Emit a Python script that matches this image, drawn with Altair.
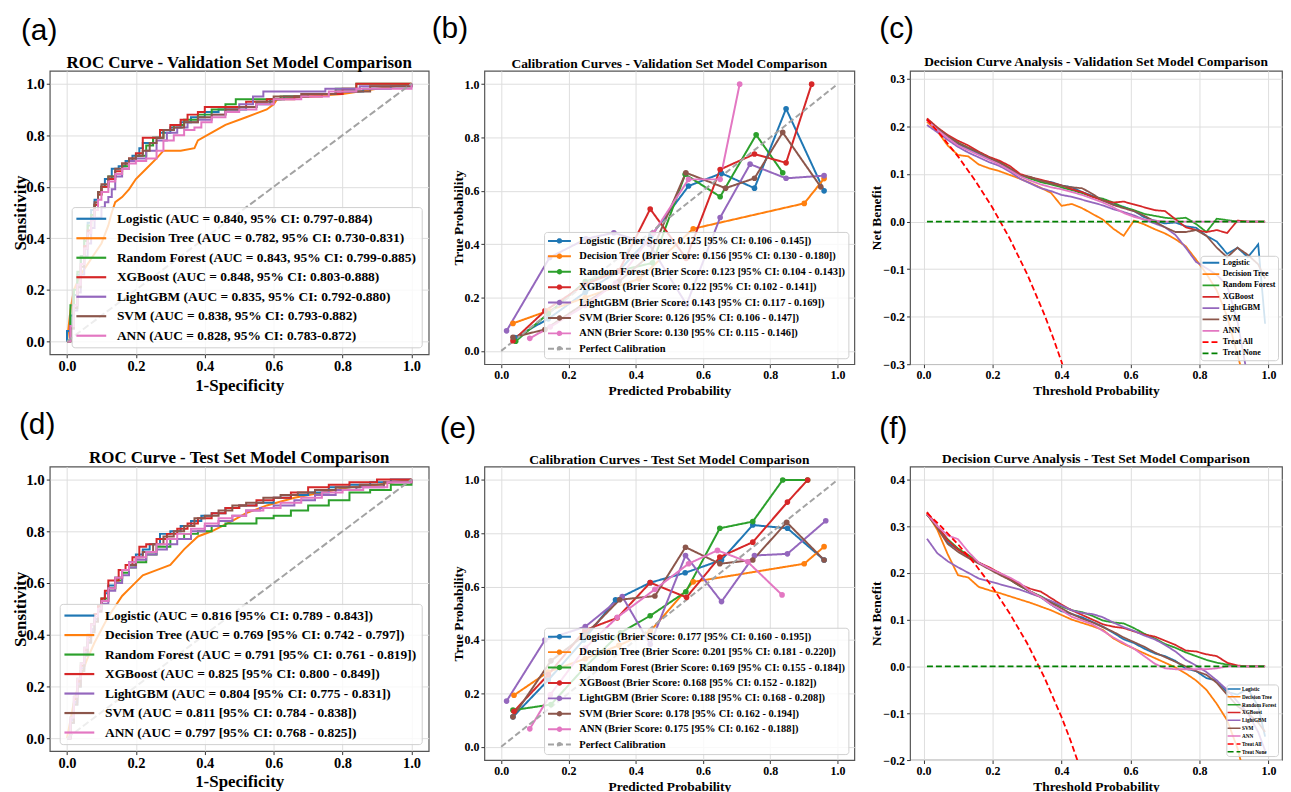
import altair as alt
import pandas as pd

MODELS = ["Logistic", "Decision Tree", "Random Forest", "XGBoost", "LightGBM", "SVM", "ANN"]
COLORS = ["#1f77b4", "#ff7f0e", "#2ca02c", "#d62728", "#9467bd", "#8c564b", "#e377c2"]

# ---------------- ROC validation ----------------
roc_val_labels = [
    "Logistic (AUC = 0.840, 95% CI: 0.797-0.884)",
    "Decision Tree (AUC = 0.782, 95% CI: 0.730-0.831)",
    "Random Forest (AUC = 0.843, 95% CI: 0.799-0.885)",
    "XGBoost (AUC = 0.848, 95% CI: 0.803-0.888)",
    "LightGBM (AUC = 0.835, 95% CI: 0.792-0.880)",
    "SVM (AUC = 0.838, 95% CI: 0.793-0.882)",
    "ANN (AUC = 0.828, 95% CI: 0.783-0.872)",
]
roc_val_logistic_fpr = [0, 0, 0.01, 0.02, 0.03, 0.04, 0.05, 0.06, 0.07, 0.08, 0.09, 0.10, 0.11, 0.13, 0.15, 0.17, 0.19, 0.21, 0.22, 0.25, 0.27, 0.30, 0.33, 0.36, 0.40, 0.44, 0.48, 0.52, 0.55, 0.59, 0.63, 0.70, 0.78, 0.86, 0.94, 1.0]
roc_val_logistic_tpr = [0, 0.04, 0.10, 0.18, 0.26, 0.33, 0.40, 0.46, 0.51, 0.55, 0.58, 0.60, 0.63, 0.67, 0.68, 0.70, 0.72, 0.75, 0.77, 0.79, 0.81, 0.83, 0.85, 0.87, 0.89, 0.90, 0.90, 0.91, 0.92, 0.94, 0.95, 0.96, 0.97, 0.98, 0.99, 1.0]
roc_val_dt_fpr = [0, 0.01, 0.02, 0.04, 0.06, 0.08, 0.10, 0.12, 0.13, 0.14, 0.16, 0.18, 0.20, 0.23, 0.26, 0.28, 0.33, 0.37, 0.38, 0.42, 0.46, 0.52, 0.58, 0.60, 0.61, 0.70, 0.80, 0.90, 1.0]
roc_val_dt_tpr = [0, 0.12, 0.20, 0.26, 0.30, 0.34, 0.38, 0.45, 0.50, 0.54, 0.56, 0.59, 0.63, 0.67, 0.71, 0.74, 0.74, 0.75, 0.78, 0.81, 0.84, 0.87, 0.90, 0.92, 0.94, 0.95, 0.96, 0.98, 1.0]
roc_val_rf_fpr = [0, 0.01, 0.01, 0.02, 0.03, 0.04, 0.05, 0.06, 0.07, 0.08, 0.09, 0.10, 0.12, 0.14, 0.16, 0.18, 0.20, 0.23, 0.25, 0.28, 0.31, 0.34, 0.38, 0.42, 0.46, 0.49, 0.55, 0.62, 0.70, 0.78, 0.84, 1.0]
roc_val_rf_tpr = [0, 0.08, 0.14, 0.20, 0.27, 0.33, 0.39, 0.45, 0.49, 0.53, 0.57, 0.60, 0.64, 0.65, 0.68, 0.70, 0.72, 0.76, 0.79, 0.82, 0.84, 0.86, 0.88, 0.90, 0.92, 0.94, 0.94, 0.95, 0.96, 0.98, 1.0, 1.0]
roc_val_xgb_fpr = [0, 0.01, 0.02, 0.03, 0.04, 0.05, 0.06, 0.07, 0.08, 0.09, 0.10, 0.12, 0.14, 0.16, 0.18, 0.20, 0.22, 0.25, 0.27, 0.30, 0.33, 0.35, 0.38, 0.40, 0.48, 0.52, 0.58, 0.66, 0.74, 0.80, 0.84, 1.0]
roc_val_xgb_tpr = [0, 0.06, 0.14, 0.22, 0.30, 0.37, 0.43, 0.48, 0.53, 0.57, 0.60, 0.63, 0.66, 0.69, 0.71, 0.73, 0.79, 0.79, 0.82, 0.84, 0.86, 0.88, 0.89, 0.91, 0.91, 0.93, 0.94, 0.95, 0.96, 0.98, 1.0, 1.0]
roc_val_lgbm_fpr = [0, 0.01, 0.02, 0.03, 0.04, 0.05, 0.06, 0.07, 0.08, 0.10, 0.11, 0.12, 0.13, 0.14, 0.16, 0.18, 0.20, 0.23, 0.26, 0.29, 0.32, 0.35, 0.38, 0.42, 0.46, 0.50, 0.54, 0.57, 0.65, 0.75, 0.85, 1.0]
roc_val_lgbm_tpr = [0, 0.05, 0.12, 0.19, 0.26, 0.33, 0.38, 0.44, 0.48, 0.52, 0.54, 0.56, 0.59, 0.64, 0.67, 0.70, 0.71, 0.74, 0.78, 0.81, 0.83, 0.85, 0.86, 0.88, 0.90, 0.92, 0.95, 0.97, 0.97, 0.98, 0.99, 1.0]
roc_val_svm_fpr = [0, 0.01, 0.02, 0.03, 0.04, 0.05, 0.06, 0.07, 0.08, 0.09, 0.10, 0.12, 0.14, 0.16, 0.18, 0.20, 0.22, 0.24, 0.26, 0.28, 0.31, 0.34, 0.38, 0.42, 0.46, 0.50, 0.55, 0.60, 0.68, 0.78, 0.88, 1.0]
roc_val_svm_tpr = [0, 0.05, 0.13, 0.21, 0.29, 0.36, 0.42, 0.48, 0.54, 0.58, 0.61, 0.64, 0.67, 0.69, 0.71, 0.72, 0.74, 0.77, 0.79, 0.82, 0.83, 0.85, 0.87, 0.88, 0.90, 0.91, 0.93, 0.95, 0.96, 0.97, 0.99, 1.0]
roc_val_ann_fpr = [0, 0.01, 0.02, 0.03, 0.04, 0.05, 0.06, 0.07, 0.08, 0.09, 0.10, 0.12, 0.14, 0.16, 0.18, 0.20, 0.23, 0.26, 0.28, 0.31, 0.34, 0.37, 0.39, 0.42, 0.46, 0.50, 0.55, 0.60, 0.68, 0.76, 0.84, 1.0]
roc_val_ann_tpr = [0, 0.06, 0.14, 0.22, 0.30, 0.36, 0.42, 0.47, 0.51, 0.55, 0.58, 0.62, 0.65, 0.67, 0.69, 0.70, 0.71, 0.74, 0.78, 0.80, 0.82, 0.83, 0.85, 0.87, 0.89, 0.90, 0.92, 0.94, 0.95, 0.97, 0.98, 1.0]

# ---------------- ROC test ----------------
roc_test_labels = [
    "Logistic (AUC = 0.816 [95% CI: 0.789 - 0.843])",
    "Decision Tree (AUC = 0.769 [95% CI: 0.742 - 0.797])",
    "Random Forest (AUC = 0.791 [95% CI: 0.761 - 0.819])",
    "XGBoost (AUC = 0.825 [95% CI: 0.800 - 0.849])",
    "LightGBM (AUC = 0.804 [95% CI: 0.775 - 0.831])",
    "SVM (AUC = 0.811 [95% CI: 0.784 - 0.838])",
    "ANN (AUC = 0.797 [95% CI: 0.768 - 0.825])",
]
roc_test_logistic_fpr = [0, 0.01, 0.02, 0.03, 0.04, 0.05, 0.06, 0.07, 0.08, 0.09, 0.10, 0.11, 0.12, 0.14, 0.16, 0.18, 0.20, 0.22, 0.24, 0.27, 0.30, 0.33, 0.36, 0.39, 0.42, 0.46, 0.50, 0.55, 0.60, 0.65, 0.70, 0.76, 0.82, 0.88, 0.94, 1.0]
roc_test_logistic_tpr = [0, 0.06, 0.13, 0.20, 0.26, 0.32, 0.37, 0.42, 0.46, 0.50, 0.53, 0.56, 0.59, 0.62, 0.65, 0.68, 0.71, 0.73, 0.75, 0.79, 0.80, 0.82, 0.84, 0.86, 0.87, 0.89, 0.90, 0.91, 0.93, 0.94, 0.95, 0.97, 0.98, 0.99, 1.0, 1.0]
roc_test_dt_fpr = [0, 0.02, 0.04, 0.06, 0.08, 0.10, 0.12, 0.14, 0.16, 0.19, 0.22, 0.26, 0.30, 0.34, 0.38, 0.42, 0.48, 0.52, 0.58, 0.66, 0.74, 0.82, 0.90, 1.0]
roc_test_dt_tpr = [0, 0.14, 0.24, 0.31, 0.37, 0.42, 0.47, 0.51, 0.55, 0.59, 0.63, 0.65, 0.67, 0.73, 0.78, 0.80, 0.84, 0.87, 0.90, 0.93, 0.95, 0.97, 0.98, 1.0]
roc_test_rf_fpr = [0, 0.01, 0.02, 0.03, 0.04, 0.05, 0.06, 0.07, 0.08, 0.09, 0.10, 0.12, 0.14, 0.16, 0.18, 0.20, 0.23, 0.26, 0.30, 0.34, 0.38, 0.42, 0.46, 0.50, 0.55, 0.60, 0.65, 0.70, 0.76, 0.82, 0.88, 0.94, 1.0]
roc_test_rf_tpr = [0, 0.08, 0.16, 0.23, 0.29, 0.35, 0.40, 0.44, 0.48, 0.51, 0.54, 0.58, 0.61, 0.64, 0.66, 0.68, 0.71, 0.74, 0.77, 0.79, 0.80, 0.82, 0.83, 0.83, 0.85, 0.86, 0.88, 0.90, 0.92, 0.95, 0.96, 0.98, 1.0]
roc_test_xgb_fpr = [0, 0.01, 0.02, 0.03, 0.04, 0.05, 0.06, 0.07, 0.08, 0.09, 0.10, 0.11, 0.12, 0.13, 0.15, 0.17, 0.19, 0.21, 0.23, 0.26, 0.29, 0.32, 0.35, 0.38, 0.42, 0.46, 0.50, 0.55, 0.60, 0.65, 0.70, 0.76, 0.82, 0.90, 1.0]
roc_test_xgb_tpr = [0, 0.07, 0.15, 0.22, 0.28, 0.34, 0.39, 0.44, 0.48, 0.51, 0.54, 0.57, 0.61, 0.61, 0.65, 0.67, 0.70, 0.74, 0.75, 0.77, 0.79, 0.81, 0.83, 0.85, 0.87, 0.89, 0.90, 0.92, 0.93, 0.95, 0.97, 0.98, 0.99, 1.0, 1.0]
roc_test_lgbm_fpr = [0, 0.01, 0.02, 0.03, 0.04, 0.05, 0.06, 0.07, 0.08, 0.09, 0.10, 0.12, 0.14, 0.16, 0.18, 0.20, 0.23, 0.26, 0.29, 0.32, 0.36, 0.40, 0.44, 0.48, 0.52, 0.56, 0.60, 0.66, 0.72, 0.78, 0.84, 0.92, 1.0]
roc_test_lgbm_tpr = [0, 0.07, 0.14, 0.21, 0.27, 0.33, 0.38, 0.42, 0.46, 0.49, 0.52, 0.57, 0.60, 0.63, 0.66, 0.69, 0.71, 0.73, 0.75, 0.77, 0.80, 0.82, 0.84, 0.86, 0.88, 0.89, 0.90, 0.92, 0.94, 0.96, 0.97, 0.99, 1.0]
roc_test_svm_fpr = [0, 0.01, 0.02, 0.03, 0.04, 0.05, 0.06, 0.07, 0.08, 0.09, 0.10, 0.12, 0.14, 0.16, 0.18, 0.20, 0.22, 0.25, 0.28, 0.31, 0.34, 0.37, 0.40, 0.44, 0.48, 0.52, 0.57, 0.62, 0.67, 0.72, 0.78, 0.85, 0.92, 1.0]
roc_test_svm_tpr = [0, 0.06, 0.13, 0.20, 0.26, 0.32, 0.37, 0.41, 0.45, 0.49, 0.53, 0.58, 0.62, 0.65, 0.67, 0.70, 0.72, 0.75, 0.78, 0.80, 0.82, 0.85, 0.86, 0.88, 0.90, 0.91, 0.93, 0.94, 0.95, 0.96, 0.97, 0.98, 0.99, 1.0]
roc_test_ann_fpr = [0, 0.01, 0.02, 0.03, 0.04, 0.05, 0.06, 0.07, 0.08, 0.09, 0.10, 0.12, 0.14, 0.16, 0.18, 0.20, 0.23, 0.26, 0.29, 0.32, 0.36, 0.40, 0.44, 0.48, 0.52, 0.57, 0.62, 0.68, 0.74, 0.80, 0.86, 0.93, 1.0]
roc_test_ann_tpr = [0, 0.08, 0.16, 0.23, 0.29, 0.35, 0.40, 0.44, 0.47, 0.50, 0.53, 0.58, 0.62, 0.65, 0.68, 0.70, 0.72, 0.75, 0.77, 0.79, 0.81, 0.83, 0.85, 0.86, 0.88, 0.89, 0.91, 0.93, 0.95, 0.96, 0.97, 0.99, 1.0]

roc_diag_x = [0.0, 1.0]
roc_diag_y = [0.0, 1.0]

# ---------------- Calibration validation ----------------
cal_val_labels = [
    "Logistic (Brier Score: 0.125 [95% CI: 0.106 - 0.145])",
    "Decision Tree (Brier Score: 0.156 [95% CI: 0.130 - 0.180])",
    "Random Forest (Brier Score: 0.123 [95% CI: 0.104 - 0.143])",
    "XGBoost (Brier Score: 0.122 [95% CI: 0.102 - 0.141])",
    "LightGBM (Brier Score: 0.143 [95% CI: 0.117 - 0.169])",
    "SVM (Brier Score: 0.126 [95% CI: 0.106 - 0.147])",
    "ANN (Brier Score: 0.130 [95% CI: 0.115 - 0.146])",
    "Perfect Calibration",
]
cal_val_logistic_x = [0.04, 0.14, 0.25, 0.35, 0.445, 0.557, 0.655, 0.753, 0.847, 0.96]
cal_val_logistic_y = [0.05, 0.12, 0.22, 0.30, 0.43, 0.618, 0.666, 0.61, 0.908, 0.60]
cal_val_dt_x = [0.035, 0.139, 0.25, 0.41, 0.571, 0.901, 0.96]
cal_val_dt_y = [0.103, 0.15, 0.20, 0.27, 0.458, 0.553, 0.646]
cal_val_rf_x = [0.043, 0.14, 0.25, 0.35, 0.45, 0.547, 0.651, 0.758, 0.837]
cal_val_rf_y = [0.036, 0.14, 0.26, 0.30, 0.33, 0.662, 0.578, 0.81, 0.668]
cal_val_xgb_x = [0.035, 0.13, 0.25, 0.35, 0.443, 0.55, 0.651, 0.753, 0.847, 0.923]
cal_val_xgb_y = [0.038, 0.15, 0.25, 0.30, 0.532, 0.347, 0.68, 0.738, 0.705, 1.0]
cal_val_lgbm_x = [0.016, 0.144, 0.252, 0.335, 0.44, 0.551, 0.651, 0.74, 0.847, 0.96]
cal_val_lgbm_y = [0.075, 0.35, 0.42, 0.443, 0.40, 0.174, 0.50, 0.70, 0.647, 0.657]
cal_val_svm_x = [0.035, 0.13, 0.25, 0.35, 0.443, 0.549, 0.667, 0.753, 0.837, 0.95]
cal_val_svm_y = [0.051, 0.08, 0.18, 0.26, 0.36, 0.668, 0.61, 0.647, 0.819, 0.615]
cal_val_ann_x = [0.085, 0.146, 0.25, 0.34, 0.453, 0.557, 0.651, 0.709]
cal_val_ann_y = [0.047, 0.09, 0.17, 0.254, 0.442, 0.643, 0.643, 1.0]

# ---------------- Calibration test ----------------
cal_test_labels = [
    "Logistic (Brier Score: 0.177 [95% CI: 0.160 - 0.195])",
    "Decision Tree (Brier Score: 0.201 [95% CI: 0.181 - 0.220])",
    "Random Forest (Brier Score: 0.169 [95% CI: 0.155 - 0.184])",
    "XGBoost (Brier Score: 0.168 [95% CI: 0.152 - 0.182])",
    "LightGBM (Brier Score: 0.188 [95% CI: 0.168 - 0.208])",
    "SVM (Brier Score: 0.178 [95% CI: 0.162 - 0.194])",
    "ANN (Brier Score: 0.175 [95% CI: 0.162 - 0.188])",
    "Perfect Calibration",
]
cal_test_logistic_x = [0.035, 0.14, 0.245, 0.34, 0.443, 0.547, 0.655, 0.748, 0.851, 0.96]
cal_test_logistic_y = [0.112, 0.25, 0.40, 0.551, 0.615, 0.652, 0.70, 0.831, 0.819, 0.70]
cal_test_dt_x = [0.038, 0.139, 0.25, 0.35, 0.443, 0.571, 0.901, 0.96]
cal_test_dt_y = [0.193, 0.28, 0.33, 0.38, 0.433, 0.618, 0.686, 0.75]
cal_test_rf_x = [0.035, 0.148, 0.25, 0.355, 0.443, 0.549, 0.65, 0.748, 0.837, 0.911]
cal_test_rf_y = [0.137, 0.158, 0.30, 0.427, 0.491, 0.581, 0.819, 0.844, 1.0, 1.0]
cal_test_xgb_x = [0.038, 0.14, 0.249, 0.345, 0.443, 0.551, 0.65, 0.748, 0.851, 0.911]
cal_test_xgb_y = [0.133, 0.27, 0.437, 0.483, 0.615, 0.56, 0.711, 0.767, 0.917, 1.0]
cal_test_lgbm_x = [0.016, 0.13, 0.25, 0.36, 0.443, 0.548, 0.655, 0.753, 0.851, 0.965]
cal_test_lgbm_y = [0.171, 0.40, 0.45, 0.563, 0.384, 0.717, 0.544, 0.717, 0.723, 0.847]
cal_test_svm_x = [0.035, 0.148, 0.25, 0.352, 0.457, 0.548, 0.65, 0.748, 0.849, 0.96]
cal_test_svm_y = [0.112, 0.322, 0.42, 0.551, 0.565, 0.748, 0.686, 0.70, 0.841, 0.70]
cal_test_ann_x = [0.085, 0.146, 0.25, 0.345, 0.457, 0.557, 0.643, 0.733, 0.835]
cal_test_ann_y = [0.067, 0.195, 0.37, 0.485, 0.59, 0.686, 0.736, 0.693, 0.569]

perfect_x = [0.0, 1.0]
perfect_y = [0.0, 1.0]

# ---------------- Decision curves ----------------
dca_labels = MODELS + ["Treat All", "Treat None"]
dca_thr = [0.01, 0.04, 0.07, 0.10, 0.13, 0.16, 0.19, 0.22, 0.25, 0.28, 0.31, 0.34, 0.37, 0.40, 0.43, 0.46, 0.49, 0.52, 0.55, 0.58, 0.61, 0.64, 0.67, 0.70, 0.73, 0.76, 0.79, 0.82, 0.85, 0.88, 0.91, 0.94, 0.97, 0.99]

dca_val_logistic = [0.215, 0.196, 0.178, 0.163, 0.152, 0.143, 0.133, 0.124, 0.110, 0.097, 0.092, 0.086, 0.083, 0.076, 0.072, 0.062, 0.054, 0.046, 0.036, 0.031, 0.022, 0.009, 0.002, -0.004, -0.002, -0.010, -0.013, -0.030, -0.042, -0.068, -0.055, -0.075, -0.048, -0.215]
dca_val_dt = [0.210, 0.190, 0.160, 0.140, 0.137, 0.120, 0.112, 0.106, 0.098, 0.090, 0.081, 0.071, 0.060, 0.033, 0.037, 0.028, 0.016, 0.004, -0.015, -0.030, 0.002, -0.006, -0.016, -0.025, -0.037, -0.052, -0.080, -0.110, -0.145, -0.200, -0.280, -0.360, -0.330, -0.500]
dca_val_rf = [0.215, 0.197, 0.180, 0.166, 0.155, 0.146, 0.135, 0.126, 0.112, 0.098, 0.090, 0.083, 0.078, 0.072, 0.066, 0.060, 0.052, 0.048, 0.040, 0.030, 0.024, 0.016, 0.012, 0.008, 0.006, 0.008, -0.005, -0.022, 0.006, 0.003, 0.0, 0.0, 0.0, 0.0]
dca_val_xgb = [0.217, 0.198, 0.182, 0.170, 0.160, 0.147, 0.136, 0.128, 0.117, 0.100, 0.093, 0.088, 0.082, 0.076, 0.068, 0.062, 0.052, 0.044, 0.040, 0.042, 0.036, 0.030, 0.024, 0.022, 0.005, -0.012, -0.018, -0.022, -0.018, -0.024, 0.002, 0.0, 0.0, 0.0]
dca_val_lgbm = [0.203, 0.188, 0.172, 0.157, 0.145, 0.135, 0.125, 0.117, 0.105, 0.090, 0.080, 0.070, 0.064, 0.056, 0.052, 0.046, 0.040, 0.034, 0.026, 0.020, 0.013, 0.004, -0.004, -0.012, -0.028, -0.055, -0.085, -0.098, -0.112, -0.135, -0.210, -0.330, -0.400, -0.450]
dca_val_svm = [0.214, 0.196, 0.180, 0.165, 0.155, 0.145, 0.134, 0.124, 0.112, 0.097, 0.094, 0.086, 0.080, 0.075, 0.072, 0.070, 0.058, 0.044, 0.035, 0.028, 0.022, 0.012, 0.000, -0.012, -0.022, -0.022, -0.018, -0.030, -0.055, -0.075, -0.055, -0.070, -0.090, -0.120]
dca_val_ann = [0.213, 0.193, 0.176, 0.160, 0.150, 0.140, 0.130, 0.120, 0.108, 0.095, 0.086, 0.078, 0.072, 0.068, 0.062, 0.056, 0.048, 0.040, 0.030, 0.018, 0.010, 0.004, 0.002, 0.0, 0.0, 0.0, 0.0, 0.0, 0.0, 0.0, 0.0, 0.0, 0.0, 0.0]
treat_all_val_x = [0.01, 0.05, 0.10, 0.15, 0.20, 0.25, 0.30, 0.35, 0.375, 0.40, 0.425, 0.45]
treat_all_val_y = [0.215, 0.182, 0.137, 0.086, 0.029, -0.036, -0.110, -0.195, -0.243, -0.295, -0.352, -0.410]

dca_test_logistic = [0.325, 0.300, 0.265, 0.250, 0.236, 0.222, 0.210, 0.198, 0.186, 0.172, 0.160, 0.148, 0.132, 0.118, 0.112, 0.105, 0.095, 0.085, 0.072, 0.058, 0.050, 0.038, 0.028, 0.022, 0.012, -0.005, -0.010, -0.025, -0.030, -0.055, -0.060, -0.048, -0.085, -0.150]
dca_test_dt = [0.328, 0.292, 0.240, 0.195, 0.190, 0.170, 0.163, 0.157, 0.150, 0.143, 0.136, 0.128, 0.120, 0.110, 0.100, 0.093, 0.086, 0.078, 0.060, 0.048, 0.038, 0.028, 0.018, 0.008, -0.002, -0.015, -0.030, -0.050, -0.080, -0.115, -0.175, -0.260, -0.350, -0.450]
dca_test_rf = [0.325, 0.298, 0.272, 0.252, 0.238, 0.222, 0.210, 0.198, 0.186, 0.172, 0.160, 0.150, 0.138, 0.128, 0.120, 0.116, 0.108, 0.098, 0.094, 0.092, 0.082, 0.070, 0.060, 0.048, 0.040, 0.030, 0.022, 0.014, 0.008, 0.004, 0.0, 0.0, 0.0, 0.0]
dca_test_xgb = [0.330, 0.300, 0.270, 0.250, 0.235, 0.222, 0.212, 0.200, 0.188, 0.175, 0.166, 0.160, 0.146, 0.132, 0.120, 0.110, 0.100, 0.090, 0.085, 0.082, 0.075, 0.068, 0.064, 0.055, 0.046, 0.034, 0.032, 0.026, 0.022, 0.008, 0.002, 0.0, 0.0, 0.0]
dca_test_lgbm = [0.273, 0.242, 0.225, 0.212, 0.200, 0.188, 0.182, 0.176, 0.170, 0.164, 0.156, 0.148, 0.140, 0.130, 0.120, 0.114, 0.112, 0.105, 0.094, 0.084, 0.076, 0.066, 0.058, 0.046, 0.032, 0.014, 0.002, -0.012, -0.030, -0.050, -0.075, -0.100, -0.140, -0.180]
dca_test_svm = [0.325, 0.296, 0.262, 0.245, 0.232, 0.220, 0.208, 0.196, 0.185, 0.172, 0.160, 0.148, 0.136, 0.124, 0.112, 0.102, 0.094, 0.084, 0.074, 0.062, 0.052, 0.042, 0.030, 0.020, 0.010, 0.000, -0.010, -0.018, -0.035, -0.060, -0.085, -0.100, -0.120, -0.140]
dca_test_ann = [0.326, 0.300, 0.280, 0.272, 0.245, 0.222, 0.210, 0.200, 0.190, 0.178, 0.160, 0.148, 0.132, 0.120, 0.106, 0.098, 0.090, 0.076, 0.062, 0.050, 0.038, 0.022, 0.006, -0.004, -0.006, -0.006, -0.006, -0.006, -0.004, 0.0, 0.0, 0.0, 0.0, 0.0]
treat_all_test_x = [0.01, 0.05, 0.10, 0.15, 0.20, 0.25, 0.30, 0.35, 0.40, 0.425, 0.45, 0.475]
treat_all_test_y = [0.328, 0.300, 0.261, 0.218, 0.169, 0.113, 0.050, -0.023, -0.108, -0.156, -0.209, -0.268]
treat_none_x = [0.01, 0.99]
treat_none_y = [0.0, 0.0]

# ---------------- helpers ----------------
SERIF = "Liberation Serif"
SANS = "Liberation Sans"
UNIT_TICKS = [0.0, 0.2, 0.4, 0.6, 0.8, 1.0]


def frame(label, model, xs, ys):
    assert len(xs) == len(ys), label
    return pd.DataFrame({"label": label, "model": model, "x": xs, "y": ys, "i": list(range(len(xs)))})


def axis(title, values, lsize, tsize, tpad):
    return alt.Axis(title=title, values=values, format=".1f", labelFontSize=lsize,
                    titleFontSize=tsize, titlePadding=tpad, labelFlush=False, labelOverlap=False)


def legend(fs, row_pad, sym_size, sym_path, sym_off, lab_off, pad, off, sw):
    return alt.Legend(title=None, orient="bottom-right", offset=off, labelFont=SERIF,
                      labelFontWeight="bold", labelFontSize=fs, labelColor="black", labelLimit=600,
                      symbolType=sym_path, symbolSize=sym_size, symbolStrokeWidth=sw,
                      symbolOffset=sym_off, labelOffset=lab_off, rowPadding=row_pad, padding=pad,
                      fillColor="rgba(255,255,255,0.8)", strokeColor="#d0d0d0", cornerRadius=3)


def head_layers(title, W, head_dy, head_fs, tag, tag_dx, tag_dy):
    # panel heading just above the frame, plus the panel letter above-left of it
    head = alt.Chart(pd.DataFrame({"t": [title]})).mark_text(
        font=SERIF, fontWeight="bold", fontSize=head_fs, align="center", baseline="alphabetic",
        color="black"
    ).encode(text="t:N", x=alt.value(W / 2), y=alt.value(head_dy))
    letter = alt.Chart(pd.DataFrame({"t": [tag]})).mark_text(
        font=SANS, fontSize=30, align="left", baseline="alphabetic", color="black"
    ).encode(text="t:N", x=alt.value(tag_dx), y=alt.value(tag_dy))
    return [head, letter]


def roc_panel(labels, fprs, tprs, title, head_dy, tag, tag_dx, tag_dy, W, H):
    df = pd.concat([frame(l, m, f, t) for l, m, f, t in zip(labels, MODELS, fprs, tprs)])
    xs = alt.Scale(domain=[-0.05, 1.05], nice=False, zero=False)
    ys = alt.Scale(domain=[-0.05, 1.05], nice=False, zero=False)
    lg = legend(13.5, 4.6, 100, "M-3,0H3", 8, 19, 5, 7, 2.2)
    color = alt.Color("label:N", scale=alt.Scale(domain=labels, range=COLORS), legend=lg)
    X = alt.X("x:Q", scale=xs, axis=axis("1-Specificity", UNIT_TICKS, 14.5, 17, 4))
    Y = alt.Y("y:Q", scale=ys, axis=axis("Sensitivity", UNIT_TICKS, 15, 17, -4))
    base = alt.Chart(df)
    steps = base.transform_filter(alt.datum.model != "Decision Tree").mark_line(
        interpolate="step-after", strokeWidth=2, clip=True
    ).encode(x=X, y=Y, color=color, order="i:Q")
    dt = base.transform_filter(alt.datum.model == "Decision Tree").mark_line(
        strokeWidth=2, clip=True
    ).encode(x=X, y=Y, color=color, order="i:Q")
    diag = alt.Chart(pd.DataFrame({"x": roc_diag_x, "y": roc_diag_y})).mark_line(
        color="#a3a3a3", strokeDash=[7, 3], strokeWidth=2, clip=True
    ).encode(x=alt.X("x:Q", scale=xs), y=alt.Y("y:Q", scale=ys))
    return alt.layer(dt, steps, diag, *head_layers(title, W, head_dy, 17, tag, tag_dx, tag_dy)).properties(
        width=W, height=H)


def cal_panel(labels, xs_list, ys_list, title, head_dy, tag, tag_dx, tag_dy, W, H):
    frames = [frame(l, m, x, y) for l, m, x, y in zip(labels[:7], MODELS, xs_list, ys_list)]
    frames.append(frame(labels[7], "Perfect", perfect_x, perfect_y))
    df = pd.concat(frames)
    xs = alt.Scale(domain=[-0.05, 1.05], nice=False, zero=False)
    ys = alt.Scale(domain=[-0.05, 1.05], nice=False, zero=False)
    path = "M-2.3,0H2.3M-0.35,0A0.35,0.35,0,1,1,0.35,0A0.35,0.35,0,1,1,-0.35,0"
    lg = legend(10.5, 3.5, 100, path, 6.5, 14, 3, 6, 2)
    cscale = alt.Scale(domain=labels, range=COLORS + ["#a3a3a3"])
    dscale = alt.Scale(domain=labels, range=[[1, 0]] * 7 + [[6, 3]])
    X = alt.X("x:Q", scale=xs, axis=axis("Predicted Probability", UNIT_TICKS, 12, 13.5, 3))
    Y = alt.Y("y:Q", scale=ys, axis=axis("True Probability", UNIT_TICKS, 12, 13.5, -1))
    base = alt.Chart(df)
    lines = base.mark_line(strokeWidth=2, clip=True).encode(
        x=X, y=Y, order="i:Q",
        color=alt.Color("label:N", scale=cscale, legend=lg),
        strokeDash=alt.StrokeDash("label:N", scale=dscale, legend=lg))
    pts = base.transform_filter(alt.datum.model != "Perfect").mark_point(
        filled=True, size=32, opacity=1, clip=True
    ).encode(x=X, y=Y, color=alt.Color("label:N", scale=cscale, legend=lg))
    return alt.layer(lines, pts, *head_layers(title, W, head_dy, 13.5, tag, tag_dx, tag_dy)).properties(
        width=W, height=H)


def dca_panel(curves, ta_x, ta_y, ydom, yticks, title, head_dy, tag, tag_dx, tag_dy, W, H, lgd):
    frames = [frame(m, m, dca_thr, c) for m, c in zip(MODELS, curves)]
    frames.append(frame("Treat All", "Treat All", ta_x, ta_y))
    frames.append(frame("Treat None", "Treat None", treat_none_x, treat_none_y))
    df = pd.concat(frames)
    xs = alt.Scale(domain=[-0.039, 1.039], nice=False, zero=False)
    ys = alt.Scale(domain=ydom, nice=False, zero=False)
    cscale = alt.Scale(domain=dca_labels, range=COLORS + ["#ff0000", "#008000"])
    dscale = alt.Scale(domain=dca_labels, range=[[1, 0]] * 7 + [[6, 3], [6, 3]])
    X = alt.X("x:Q", scale=xs, axis=axis("Threshold Probability", UNIT_TICKS, 12, 13.5, 3))
    Y = alt.Y("y:Q", scale=ys, axis=axis("Net Benefit", yticks, 12, 13.5, -1))
    lines = alt.Chart(df).mark_line(strokeWidth=1.8, clip=True).encode(
        x=X, y=Y, order="i:Q",
        color=alt.Color("label:N", scale=cscale, legend=lgd),
        strokeDash=alt.StrokeDash("label:N", scale=dscale, legend=lgd))
    return alt.layer(lines, *head_layers(title, W, head_dy, 13.5, tag, tag_dx, tag_dy)).properties(
        width=W, height=H)


pa = roc_panel(roc_val_labels,
               [roc_val_logistic_fpr, roc_val_dt_fpr, roc_val_rf_fpr, roc_val_xgb_fpr, roc_val_lgbm_fpr, roc_val_svm_fpr, roc_val_ann_fpr],
               [roc_val_logistic_tpr, roc_val_dt_tpr, roc_val_rf_tpr, roc_val_xgb_tpr, roc_val_lgbm_tpr, roc_val_svm_tpr, roc_val_ann_tpr],
               "ROC Curve - Validation Set Model Comparison", -3, "(a)", -29, -31, 381, 285)
pd_ = roc_panel(roc_test_labels,
                [roc_test_logistic_fpr, roc_test_dt_fpr, roc_test_rf_fpr, roc_test_xgb_fpr, roc_test_lgbm_fpr, roc_test_svm_fpr, roc_test_ann_fpr],
                [roc_test_logistic_tpr, roc_test_dt_tpr, roc_test_rf_tpr, roc_test_xgb_tpr, roc_test_lgbm_tpr, roc_test_svm_tpr, roc_test_ann_tpr],
                "ROC Curve - Test Set Model Comparison", -4, "(d)", -31, -33, 381, 286)
pb = cal_panel(cal_val_labels,
               [cal_val_logistic_x, cal_val_dt_x, cal_val_rf_x, cal_val_xgb_x, cal_val_lgbm_x, cal_val_svm_x, cal_val_ann_x],
               [cal_val_logistic_y, cal_val_dt_y, cal_val_rf_y, cal_val_xgb_y, cal_val_lgbm_y, cal_val_svm_y, cal_val_ann_y],
               "Calibration Curves - Validation Set Model Comparison", -3, "(b)", -53, -33, 372, 295)
pe = cal_panel(cal_test_labels,
               [cal_test_logistic_x, cal_test_dt_x, cal_test_rf_x, cal_test_xgb_x, cal_test_lgbm_x, cal_test_svm_x, cal_test_ann_x],
               [cal_test_logistic_y, cal_test_dt_y, cal_test_rf_y, cal_test_xgb_y, cal_test_lgbm_y, cal_test_svm_y, cal_test_ann_y],
               "Calibration Curves - Test Set Model Comparison", -3, "(e)", -45, -29, 372, 295)
lg_c = legend(8, 2.4, 64, "M-2.1,0H2.1", 3.5, 7, 2, 4, 1.8)
lg_f = legend(5.2, 0.9, 25, "M-2.6,0H2.6", 3.3, 4.5, 1, 4, 1.5)
pc = dca_panel([dca_val_logistic, dca_val_dt, dca_val_rf, dca_val_xgb, dca_val_lgbm, dca_val_svm, dca_val_ann],
               treat_all_val_x, treat_all_val_y, [-0.3, 0.317], [-0.3, -0.2, -0.1, 0.0, 0.1, 0.2, 0.3],
               "Decision Curve Analysis - Validation Set Model Comparison", -5, "(c)", -31, -33, 374, 295, lg_c)
pf = dca_panel([dca_test_logistic, dca_test_dt, dca_test_rf, dca_test_xgb, dca_test_lgbm, dca_test_svm, dca_test_ann],
               treat_all_test_x, treat_all_test_y, [-0.2, 0.427], [-0.2, -0.1, 0.0, 0.1, 0.2, 0.3, 0.4],
               "Decision Curve Analysis - Test Set Model Comparison", -4, "(f)", -31, -29, 374, 295, lg_f)

chart = alt.concat(pa, pb, pc, pd_, pe, pf, columns=3, spacing={"row": 103, "column": 56},
                   bounds="flush").resolve_scale(
    color="independent", strokeDash="independent", x="independent", y="independent"
).resolve_legend(
    color="independent", strokeDash="independent"
).properties(
    padding={"left": 3, "top": 3, "right": 0, "bottom": 0}
).configure_axis(
    labelFont=SERIF, titleFont=SERIF, labelFontWeight="bold", titleFontWeight="bold",
    labelColor="black", titleColor="black", gridColor="#dedede", gridWidth=1,
    domain=False, tickColor="#333333", tickSize=3.5, labelPadding=2
).configure_view(
    stroke="#555555", strokeWidth=1.2
)

chart.save("out.html", embed_options={"renderer": "svg", "actions": False})
